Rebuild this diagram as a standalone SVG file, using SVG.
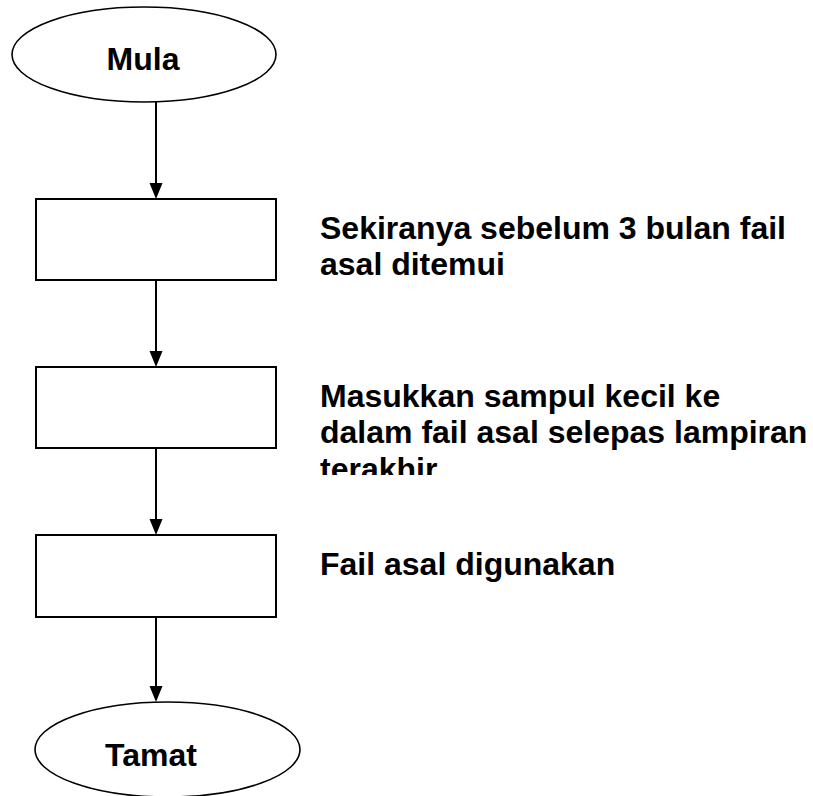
<svg xmlns="http://www.w3.org/2000/svg" width="813" height="796" viewBox="0 0 813 796">
<style>
.shape{fill:#fff;stroke:#000;stroke-width:2}
.oval{fill:#fff;stroke:#000;stroke-width:1.6}
.conn{stroke:#000;stroke-width:2;fill:none}
.head{fill:#000}
.t{font-family:"Liberation Sans",Arial,sans-serif;font-weight:bold;font-size:32px;fill:#000}
</style>
<defs>
<clipPath id="clip2"><rect x="300" y="370" width="513" height="105"/></clipPath>
</defs>
<rect width="813" height="796" fill="#fff"/>
<g id="connectors">
<line class="conn" x1="156" y1="102" x2="156" y2="185"/>
<polygon class="head" points="149.5,183 162.5,183 156,199"/>
<line class="conn" x1="156" y1="280" x2="156" y2="353"/>
<polygon class="head" points="149.5,351 162.5,351 156,367"/>
<line class="conn" x1="156" y1="448" x2="156" y2="521"/>
<polygon class="head" points="149.5,519 162.5,519 156,535"/>
<line class="conn" x1="156" y1="617" x2="156" y2="688"/>
<polygon class="head" points="149.5,686 162.5,686 156,702"/>
</g>
<g id="start">
<ellipse class="oval" cx="144" cy="54.5" rx="132" ry="47.5"/>
<text class="t" x="143" y="70" text-anchor="middle">Mula</text>
</g>
<g id="step1">
<rect class="shape" x="36" y="199" width="240" height="81"/>
</g>
<g id="step2">
<rect class="shape" x="36" y="367" width="240" height="81"/>
</g>
<g id="step3">
<rect class="shape" x="36" y="535" width="240" height="82"/>
</g>
<g id="end">
<ellipse class="oval" cx="167.5" cy="749.5" rx="132.5" ry="47.5"/>
<text class="t" x="151" y="766" text-anchor="middle">Tamat</text>
</g>
<g id="label1">
<text class="t" x="320" y="239">Sekiranya sebelum 3 bulan fail</text>
<text class="t" x="320" y="275">asal ditemui</text>
</g>
<g id="label2" clip-path="url(#clip2)">
<text class="t" x="320" y="407">Masukkan sampul kecil ke</text>
<text class="t" x="320" y="443">dalam fail asal selepas lampiran</text>
<text class="t" x="320" y="480">terakhir</text>
</g>
<g id="label3">
<text class="t" x="320" y="575">Fail asal digunakan</text>
</g>
</svg>
